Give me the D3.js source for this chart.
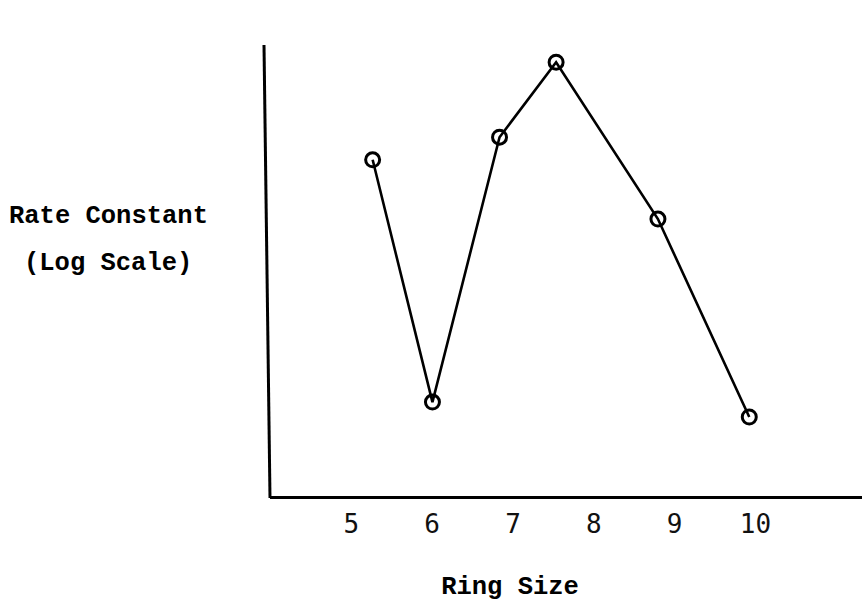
<!DOCTYPE html>
<html>
<head>
<meta charset="utf-8">
<script src="https://cdn.jsdelivr.net/npm/d3@7"></script>
<style>
  html, body { margin: 0; padding: 0; background: #fff; }
  svg { display: block; }
</style>
</head>
<body>
<svg id="chart" width="862" height="607"></svg>
<script>
// Data (y is relative log rate in arbitrary units)
const ringSize = [5.27, 6.01, 6.84, 7.54, 8.80, 9.93];
const logRate = [7.46, 2.10, 7.96, 9.62, 6.15, 1.77];
const tickLabels = [5, 6, 7, 8, 9, 10];
const yTitle = ["Rate Constant", "(Log Scale)"];
const xTitle = "Ring Size";

const svg = d3.select("#chart");
const x = d3.scaleLinear().domain([4, 11.3]).range([270, 860]);
const y = d3.scaleLinear().domain([0, 10]).range([497, 45]);

// X axis
const xAxis = svg.append("g")
  .attr("transform", `translate(0,${y(0)})`)
  .call(d3.axisBottom(x).tickValues(tickLabels).tickSize(0).tickSizeOuter(0).tickFormat(d3.format("d")));
xAxis.select(".domain").attr("stroke", "#000").attr("stroke-width", 3).attr("d", `M${x(4)},0.5H862`);
xAxis.selectAll("text")
  .attr("dy", null)
  .attr("y", 36)
  .attr("fill", "#111")
  .style("font-family", "'DejaVu Sans Mono', monospace")
  .style("font-size", "26px");

// Y axis (slightly slanted like the typed original)
const yAxis = svg.append("g")
  .attr("transform", `translate(${x(4)},0)`)
  .call(d3.axisLeft(y).tickValues([]).tickSize(0).tickSizeOuter(0));
yAxis.select(".domain").attr("stroke", "#000").attr("stroke-width", 3)
  .attr("d", `M0,${y(0) + 1}L-6,${y(10)}`);

// Line
const pts = ringSize.map((v, i) => [v, logRate[i]]);
svg.append("path")
  .datum(pts)
  .attr("fill", "none")
  .attr("stroke", "#000")
  .attr("stroke-width", 2.6)
  .attr("d", d3.line().x(d => x(d[0])).y(d => y(d[1])));

// Markers
svg.append("g").selectAll("circle")
  .data(pts)
  .join("circle")
  .attr("cx", d => x(d[0]))
  .attr("cy", d => y(d[1]))
  .attr("r", 7)
  .attr("fill", "none")
  .attr("stroke", "#000")
  .attr("stroke-width", 3);

// Titles
const titleFont = "'Liberation Mono', 'Courier New', monospace";
svg.append("g").selectAll("text")
  .data(yTitle)
  .join("text")
  .attr("x", (d, i) => i === 0 ? 9 : 24)
  .attr("y", (d, i) => i === 0 ? 223 : 270)
  .attr("fill", "#000")
  .style("font-family", titleFont)
  .style("font-weight", "bold")
  .style("font-size", "25.5px")
  .text(d => d);

svg.append("text")
  .attr("x", 510)
  .attr("y", 594)
  .attr("text-anchor", "middle")
  .attr("fill", "#000")
  .style("font-family", titleFont)
  .style("font-weight", "bold")
  .style("font-size", "25.5px")
  .text(xTitle);
</script>
</body>
</html>
